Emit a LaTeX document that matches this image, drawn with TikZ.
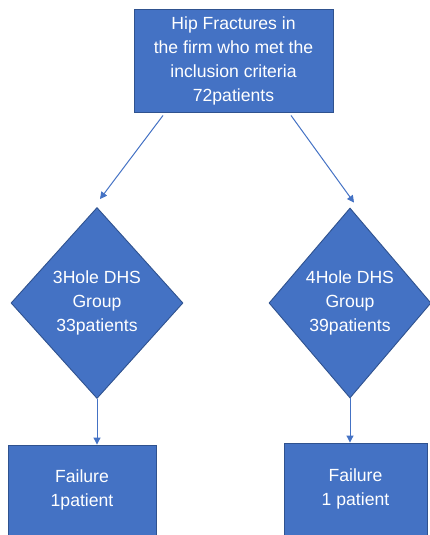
\documentclass[tikz,border=0pt]{standalone}
\usepackage{fontspec}
\setmainfont{Liberation Sans}
\usetikzlibrary{shapes.geometric,arrows.meta}
\definecolor{boxfill}{HTML}{4472C4}
\definecolor{boxline}{HTML}{2F528F}
\tikzset{
  base/.style={fill=boxfill, draw=boxline, line width=0.9pt, text=white, align=center, inner sep=0pt,
    font=\fontsize{17.6}{24}\selectfont},
  rectbox/.style={base, rectangle},
  decision/.style={base, diamond, shape aspect=0.9},
  conn/.style={draw=boxfill, line width=1pt, -{Triangle[length=7pt,width=7pt]}}
}
\begin{document}
\begin{tikzpicture}[x=1pt,y=-1pt]
\useasboundingbox (0,0) rectangle (429,535);
\node[rectbox, minimum width=199pt, minimum height=103pt] (top) at (233.5,60.5)
  {Hip Fractures in\\the firm who met the\\inclusion criteria\\72patients};
\node[decision, minimum width=172pt, minimum height=191pt] (d1) at (97,303)
  {3Hole DHS\\Group\\33patients};
\node[decision, minimum width=162pt, minimum height=190pt] (d2) at (350,303)
  {4Hole DHS\\Group\\39patients};
\node[rectbox, minimum width=148pt, minimum height=90pt] (f1) at (82,490)
  {Failure\\1patient};
\node[rectbox, minimum width=143pt, minimum height=92pt] (f2) at (355.5,489)
  {Failure\\1 patient};
\draw[conn] ([xshift=-70.5pt,yshift=-3pt]top.south) -- ([xshift=3pt,yshift=8pt]d1.north);
\draw[conn] ([xshift=57.5pt,yshift=-3pt]top.south) -- ([xshift=4pt,yshift=5pt]d2.north);
\draw[conn] (d1.south) -- (d1.south |- f1.north);
\draw[conn] (d2.south) -- (d2.south |- f2.north);
\end{tikzpicture}
\end{document}
